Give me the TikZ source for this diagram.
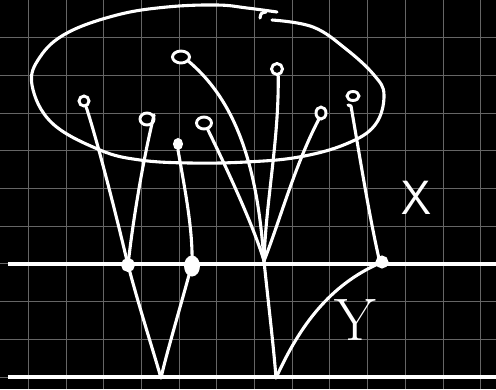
\documentclass[tikz,border=0pt]{standalone}
\usepackage{fontspec}
\usetikzlibrary{shapes.geometric}
\begin{document}
\begin{tikzpicture}[x=1pt,y=-1pt,
  gridline/.style={draw=white!40!black,line width=1pt},
  stroke/.style={draw=white,line width=3.1pt,line cap=round,line join=round},
  baseline/.style={draw=white,line width=3.6pt},
  loopnode/.style={draw=white,ellipse,line width=2.9pt,inner sep=0pt,fill=black},
  blob/.style={draw=white,ellipse,line width=2.9pt,inner sep=0pt,fill=white},
  lbl/.style={text=white,inner sep=0pt}]
\fill[black] (0,0) rectangle (496,389);
\useasboundingbox (0,0) rectangle (496,389);
% grid
\foreach \i in {0,...,12} \draw[gridline] ({28.3+37.7*\i},0) -- ++(0,389);
\foreach \j in {1,...,10} \draw[gridline] (0,{37.7*\j}) -- ++(496,0);
% the two lines
\draw[baseline] (8,264) -- (496,264);
\draw[baseline] (8,377) -- (496,377);
% the closed curve (set)
\draw[stroke] plot[smooth,tension=0.65] coordinates {(272,20) (313,27) (346,49) (374,75) (384,95) (375,125) (346,144) (299,157) (246,162) (190,163) (140,160) (100,150) (52,123) (32,85) (40,57) (67,33) (117,15) (167,7) (217,5) (247,8) (277,12)};
\draw[stroke] (266,12) .. controls (261,13) .. (260,18);
% points of the set
\node[loopnode,minimum width=17pt,minimum height=12pt] (p1) at (181,57) {};
\node[loopnode,minimum width=10pt,minimum height=10pt] (p2) at (84,101) {};
\node[loopnode,minimum width=14pt,minimum height=12pt] (p3) at (147,119) {};
\node[blob,minimum width=7pt,minimum height=9pt] (p4) at (178,144) {};
\node[loopnode,minimum width=15pt,minimum height=12pt] (p5) at (204,123) {};
\node[loopnode,minimum width=11pt,minimum height=11pt] (p6) at (277,69) {};
\node[loopnode,minimum width=10pt,minimum height=12pt] (p7) at (321,113) {};
\node[loopnode,minimum width=12pt,minimum height=9pt] (p8) at (353,96) {};
% junctions on the lines
\coordinate (x1) at (128,265);
\coordinate (x2) at (192,264);
\coordinate (x3) at (264,261);
\coordinate (x4) at (380,263);
\coordinate (b1) at (161,378);
\coordinate (b2) at (276,378);
% strands
\draw[stroke] (p1.-30) .. controls (240,105) and (258,175) .. (x3);
\draw[stroke] (p2.-70) .. controls (97,140) and (115,210) .. (x1);
\draw[stroke] (p3.30) .. controls (143,160) and (133,220) .. (x1);
\draw[stroke] (p4.-90) .. controls (185,190) and (193,230) .. (x2);
\draw[stroke] (p5.-60) .. controls (230,175) and (255,230) .. (x3);
\draw[stroke] (p6.-80) .. controls (279,140) and (266,200) .. (x3);
\draw[stroke] (p7.-110) .. controls (295,165) and (280,220) .. (x3);
\draw[stroke] (351,106) .. controls (362,170) and (370,220) .. (x4);
\draw[stroke] (348,105) -- (351,106);
% from the X line down to the lower line
\draw[stroke] (x1) .. controls (140,310) and (153,350) .. (b1);
\draw[stroke] (x2) .. controls (181,305) and (166,355) .. (b1);
\draw[stroke] (x3) .. controls (268,300) and (274,350) .. (b2);
\draw[stroke] (x4) .. controls (330,285) and (300,325) .. (b2);
% junction marks
\node[blob,minimum width=11pt,minimum height=11pt] (j1) at (x1) {};
\node[blob,minimum width=13pt,minimum height=18pt] (j2) at (192,266) {};
\node[blob,minimum width=10pt,minimum height=10pt] (j4) at (382,262) {};
% labels
\node[lbl,font=\sffamily\fontsize{48}{48}\selectfont] (X) at (416,198) {X};
\node[lbl,font=\fontsize{60}{60}\selectfont] (Y) at (355,320) {Y};
\end{tikzpicture}
\end{document}
